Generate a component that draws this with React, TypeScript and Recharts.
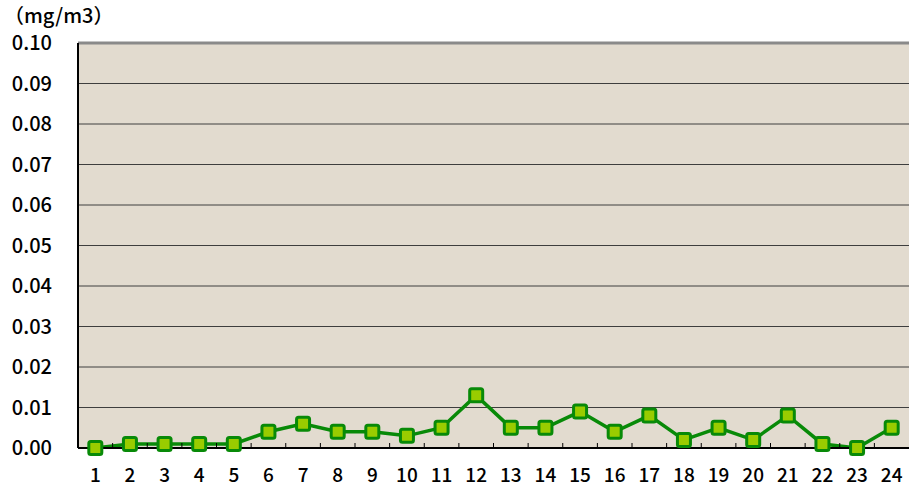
import React from "react";
import { LineChart, Line, XAxis, YAxis, CartesianGrid, ReferenceLine } from "recharts";

const hours: string[] = ["1","2","3","4","5","6","7","8","9","10","11","12","13","14","15","16","17","18","19","20","21","22","23","24"];
const values: number[] = [0.000,0.001,0.001,0.001,0.001,0.004,0.006,0.004,0.004,0.003,0.005,0.013,0.005,0.005,0.009,0.004,0.008,0.002,0.005,0.002,0.008,0.001,0.000,0.005];
const yTicks: number[] = [0,0.01,0.02,0.03,0.04,0.05,0.06,0.07,0.08,0.09,0.1];
const unitLabel = "（mg/m3）";

const data = hours.map((h, i) => ({ hour: h, value: values[i] }));

const W = 909;
const H = 494;
const LEFT = 78;
const RIGHT = 0;
const TOP = 43;
const BOTTOM = 46;
const BW = (W - LEFT - RIGHT) / hours.length;
const FONT = "'Noto Sans CJK JP', 'DejaVu Sans', sans-serif";

const XTick = (props: any) => {
  const { x, payload, index } = props;
  const axisY = H - BOTTOM;
  return (
    <g>
      {index < hours.length - 1 && (
        <line x1={x + BW / 2} x2={x + BW / 2} y1={axisY} y2={axisY - 5} stroke="#000" strokeWidth={1} />
      )}
      <text x={x} y={axisY + 34} textAnchor="middle" fontSize={19} fontWeight={500} fontFamily={FONT} fill="#000">
        {payload.value}
      </text>
    </g>
  );
};

const YTick = (props: any) => {
  const { x, y, payload } = props;
  return (
    <text x={x} y={y + 7} textAnchor="end" fontSize={20} fontWeight={500} fontFamily={FONT} fill="#000">
      {Number(payload.value).toFixed(2)}
    </text>
  );
};

const SquareDot = (props: any) => {
  const { cx, cy, index } = props;
  if (cx == null || cy == null) return null;
  return (
    <rect key={index} x={cx - 6.5} y={cy - 6.5} width={13} height={13} rx={2} ry={2} fill="#99cc00" stroke="#088a08" strokeWidth={3} />
  );
};

export default function App() {
  return (
    <div style={{ position: "absolute", left: 0, top: 0, width: W, height: H, background: "#fff" }}>
      <div style={{ position: "absolute", left: 4, top: 4, fontSize: 20, fontWeight: 500, fontFamily: FONT, color: "#000", lineHeight: "22px" }}>
        {unitLabel}
      </div>
      <LineChart width={W} height={H} data={data} margin={{ top: TOP, right: RIGHT, left: 0, bottom: 0 }}>
        <CartesianGrid vertical={false} fill="#e2dbcf" stroke="#3e3e3e" strokeWidth={1} fillOpacity={1} />
        <ReferenceLine y={0.1} stroke="#8a8a8a" strokeWidth={3} ifOverflow="extendDomain" />
        <XAxis
          dataKey="hour"
          height={BOTTOM}
          interval={0}
          padding={{ left: BW / 2, right: BW / 2 }}
          tickLine={false}
          axisLine={{ stroke: "#000", strokeWidth: 2 }}
          tick={<XTick />}
        />
        <YAxis
          width={LEFT}
          domain={[0, 0.1]}
          ticks={yTicks}
          interval={0}
          tickLine={false}
          axisLine={{ stroke: "#000", strokeWidth: 2 }}
          tick={<YTick />}
          tickMargin={26}
          tickSize={0}
        />
        <Line
          type="linear"
          dataKey="value"
          stroke="#088a08"
          strokeWidth={3.5}
          dot={<SquareDot />}
          activeDot={false}
          isAnimationActive={false}
        />
      </LineChart>
    </div>
  );
}
